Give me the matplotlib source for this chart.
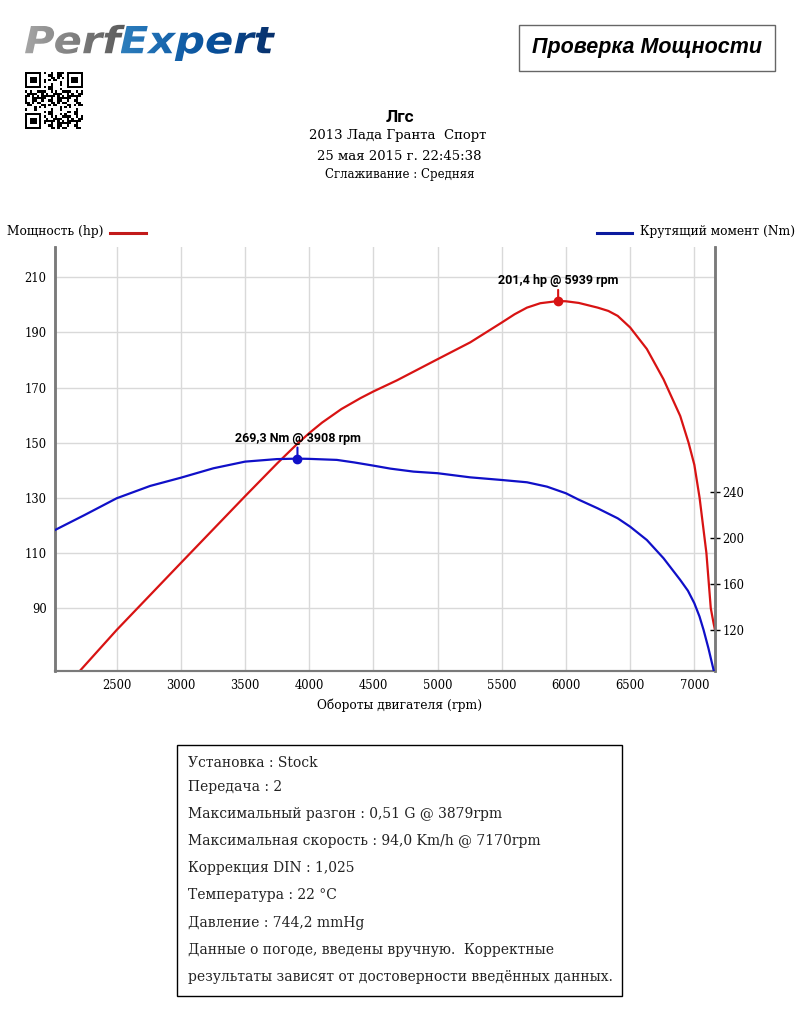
import numpy as np
import matplotlib
matplotlib.use("Agg")
import matplotlib.pyplot as plt
from matplotlib.patches import Rectangle, PathPatch
from matplotlib.textpath import TextPath
from matplotlib.font_manager import FontProperties
from matplotlib.transforms import Affine2D

# ---------------------------------------------------------------------------
# Data
# ---------------------------------------------------------------------------
rpm_power = [2019, 2214, 2500, 3000, 3500, 3750, 3900, 4000, 4100, 4250, 4400,
             4500, 4682, 5000, 5254, 5500, 5600, 5696, 5800, 5939, 6000, 6100,
             6247, 6330, 6403, 6500, 6630, 6760, 6890, 6955, 7000, 7041, 7094,
             7128, 7150, 7161]
power_hp = [58.0, 67.3, 82.1, 106.4, 130.6, 142.5, 149.3, 153.5, 157.3, 162.2,
            166.2, 168.6, 172.6, 180.3, 186.4, 193.6, 196.6, 199.0, 200.6,
            201.4, 201.3, 200.7, 199.0, 197.8, 196.0, 191.8, 184.0, 173.0,
            159.7, 150.0, 142.0, 130.0, 110.0, 90.0, 84.5, 82.1]

rpm_torque = [2019, 2250, 2500, 2760, 3000, 3253, 3500, 3747, 3908, 4000, 4215,
              4350, 4500, 4632, 4812, 5000, 5254, 5500, 5696, 5852, 6000, 6100,
              6247, 6403, 6500, 6630, 6760, 6890, 6950, 7000, 7040, 7072, 7110,
              7150]
torque_nm = [207.1, 220.2, 234.8, 245.5, 252.7, 260.9, 266.7, 268.9, 269.3,
             269.1, 268.2, 266.0, 263.2, 260.6, 258.0, 256.6, 253.0, 250.7,
             248.7, 244.9, 239.1, 233.5, 226.0, 217.3, 210.0, 198.4, 182.5,
             163.6, 154.2, 143.3, 131.8, 120.0, 104.0, 85.1]

peak_power = (5939, 201.4)
peak_torque = (3908, 269.3)

x_ticks = [2500, 3000, 3500, 4000, 4500, 5000, 5500, 6000, 6500, 7000]
hp_ticks = [90, 110, 130, 150, 170, 190, 210]
nm_ticks = [120, 160, 200, 240]

header_lines = ["2013 Лада Гранта  Спорт", "25 мая 2015 г. 22:45:38"]
info_lines = [
    "Установка : Stock",
    "Передача : 2",
    "Максимальный разгон : 0,51 G @ 3879rpm",
    "Максимальная скорость : 94,0 Km/h @ 7170rpm",
    "Коррекция DIN : 1,025",
    "Температура : 22 °C",
    "Давление : 744,2 mmHg",
    "Данные о погоде, введены вручную.  Корректные",
    "результаты зависят от достоверности введённых данных.",
]

RED = "#d81313"
BLUE = "#1010c8"
SPINE = "#7a7a7a"
GRID = "#d9d9d9"
SERIF = "DejaVu Serif"

W, H = 800, 1022


def px(x, y):
    """pixel position (top-left origin) -> figure fraction"""
    return x / W, 1 - y / H


fig = plt.figure(figsize=(W / 100, H / 100), dpi=100)
fig.patch.set_facecolor("white")

# ---------------------------------------------------------------------------
# Main chart
# ---------------------------------------------------------------------------
ax = fig.add_axes([55 / W, 1 - 670.7 / H, 660 / W, 424 / H])
ax2 = ax.twinx()

ax.plot(rpm_power, power_hp, color=RED, lw=1.6, zorder=3,
        solid_joinstyle="round")
ax2.plot(rpm_torque, torque_nm, color=BLUE, lw=1.6, zorder=3,
         solid_joinstyle="round")

ax.set_xlim(2019, 7161)
ax.set_ylim(67.3, 221.1)
ax2.set_ylim(84.5, 454)

ax.set_xticks(x_ticks)
ax.set_yticks(hp_ticks)
ax2.set_yticks(nm_ticks)
ax.grid(True, color=GRID, lw=1.0)
ax.set_axisbelow(True)

ax.tick_params(axis="both", length=0, labelsize=8.3, pad=6)
ax2.tick_params(axis="y", direction="inout", length=7, width=1,
                color="black", labelsize=8.3, pad=2)
for lab in ax.get_xticklabels() + ax.get_yticklabels() + ax2.get_yticklabels():
    lab.set_family(SERIF)

for a in (ax, ax2):
    a.spines["top"].set_visible(False)
    a.spines["left"].set_color(SPINE)
    a.spines["right"].set_color(SPINE)
    a.spines["bottom"].set_color(SPINE)
    a.spines["left"].set_linewidth(1.8)
    a.spines["right"].set_linewidth(1.8)
    a.spines["bottom"].set_linewidth(1.5)

# peak markers
ax.plot(*peak_power, "o", color=RED, ms=6, zorder=5)
ax.annotate(f"{peak_power[1]:.1f}".replace(".", ",") + f" hp @ {peak_power[0]} rpm",
            xy=peak_power, xytext=(0, 10), textcoords="offset points",
            ha="center", va="bottom", fontsize=9, fontweight="bold",
            family="Roboto",
            arrowprops=dict(arrowstyle="-", color=RED, lw=1.5,
                            shrinkA=0, shrinkB=0))
ax2.plot(*peak_torque, "o", color=BLUE, ms=6, zorder=5)
ax2.annotate(f"{peak_torque[1]:.1f}".replace(".", ",") + f" Nm @ {peak_torque[0]} rpm",
             xy=peak_torque, xytext=(0, 10), textcoords="offset points",
             ha="center", va="bottom", fontsize=9, fontweight="bold",
             family="Roboto",
             arrowprops=dict(arrowstyle="-", color=BLUE, lw=1.5,
                             shrinkA=0, shrinkB=0))

fig.text(*px(400, 705), "Обороты двигателя (rpm)", ha="center", va="center",
         fontsize=8.8, family=SERIF)

# legend
fig.text(*px(7, 232), "Мощность (hp)", ha="left", va="center",
         fontsize=8.8, family=SERIF)
fig.add_artist(plt.Line2D([110 / W, 146 / W], [1 - 233 / H] * 2,
                          color="#c21a1a", lw=2.2))
fig.text(*px(795, 232), "Крутящий момент (Nm)", ha="right", va="center",
         fontsize=8.8, family=SERIF)
fig.add_artist(plt.Line2D([597 / W, 632 / W], [1 - 233 / H] * 2,
                          color="#0b1a9e", lw=2.2))

# ---------------------------------------------------------------------------
# Header
# ---------------------------------------------------------------------------
fig.text(*px(400, 117), "Лгс", ha="center", va="center", fontsize=12.5,
         fontweight="bold", family="Roboto")
fig.text(*px(398, 136), header_lines[0], ha="center", va="center",
         fontsize=9.5, family=SERIF)
fig.text(*px(399, 157), header_lines[1], ha="center", va="center",
         fontsize=9.5, family=SERIF)
fig.text(*px(400, 174), "Сглаживание : Средняя", ha="center", va="center",
         fontsize=8.5, family=SERIF)

# title box
fig.add_artist(Rectangle(px(519, 71.5), 256 / W, 46.5 / H, transform=fig.transFigure,
                         facecolor="white", edgecolor="#666666", lw=1.0))
fig.text(*px(647, 47), "Проверка Мощности", ha="center", va="center",
         fontsize=15.5, fontweight="bold", style="italic",
         family="Liberation Sans")

# logo drawn from text outlines so it fits its box
logo = fig.add_axes([25 / W, 1 - 61 / H, 250 / W, 37 / H])
logo.set_xlim(0, 250)
logo.set_ylim(0, 37)
logo.axis("off")
fp = FontProperties(family="DejaVu Sans", weight="bold", style="italic")
p1 = TextPath((0, 0), "Perf", size=30, prop=fp)
p2 = TextPath((0, 0), "Expert", size=30, prop=fp)
b1 = p1.get_extents()
b2 = p2.get_extents()
gap = -3
total = b1.width + b2.width + gap
sx = 250 / total
sy = 35 / max(b1.height, b2.height)
t1 = Affine2D().translate(-b1.x0, -b1.y0 + (b1.y0 - b2.y0)).scale(sx, sy)
off2 = (b1.width + gap) * sx
t2 = Affine2D().translate(-b2.x0, -b2.y0).scale(sx, sy).translate(off2, 0)
for path, tr, cmap, ext, rng in [
    (p1, t1, "Greys", (0, off2 + 6), (0.45, 0.72)),
    (p2, t2, "Blues", (off2, 250), (0.7, 1.0)),
]:
    pp = PathPatch(tr.transform_path(path), facecolor="none", edgecolor="none",
                   transform=logo.transData)
    logo.add_patch(pp)
    grad = np.linspace(rng[0], rng[1], 64)[None, :]
    im = logo.imshow(grad, extent=(ext[0], ext[1], 0, 37), cmap=cmap,
                     vmin=0, vmax=1, aspect="auto", interpolation="bilinear")
    im.set_clip_path(pp)

# QR-like block (decorative)
qr = fig.add_axes([25 / W, 1 - 129 / H, 58 / W, 57 / H])
n = 25
ii, jj = np.mgrid[0:n, 0:n]
mat = ((((ii * ii * 3 + jj * jj * 5 + ii * jj * 7 + ii) % 11) < 5)).astype(float)
for (r0, c0) in [(0, 0), (0, n - 7), (n - 7, 0)]:
    mat[max(r0 - 1, 0):r0 + 8, max(c0 - 1, 0):c0 + 8] = 0
    mat[r0:r0 + 7, c0:c0 + 7] = 1
    mat[r0 + 1:r0 + 6, c0 + 1:c0 + 6] = 0
    mat[r0 + 2:r0 + 5, c0 + 2:c0 + 5] = 1
qr.imshow(mat, cmap="Greys", vmin=0, vmax=1, interpolation="nearest",
          aspect="auto")
qr.axis("off")

# ---------------------------------------------------------------------------
# Info box
# ---------------------------------------------------------------------------
fig.add_artist(Rectangle(px(177, 996), 445 / W, 251 / H, transform=fig.transFigure,
                         facecolor="white", edgecolor="black", lw=1.0))
line_y = [763.3, 786.7, 814, 840.7, 867.7, 895, 922.7, 950, 976.7]
for y, txt in zip(line_y, info_lines):
    fig.text(*px(188, y), txt, ha="left", va="center", fontsize=10,
             family=SERIF, color="#222222")

fig.savefig("out.png", dpi=100)
